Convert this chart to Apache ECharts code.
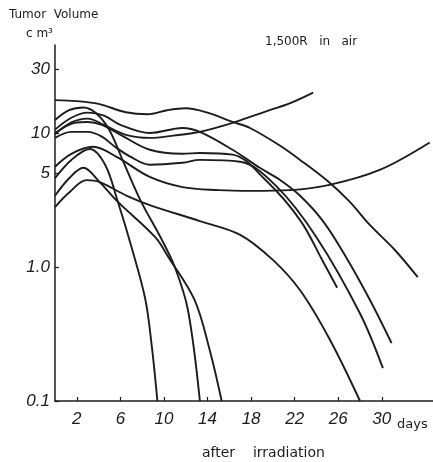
<!DOCTYPE html>
<html>
<head>
<meta charset="utf-8">
<script src="https://cdn.jsdelivr.net/npm/echarts@6/dist/echarts.min.js"></script>
<style>
  html, body { margin: 0; padding: 0; background: #fff; }
  #chart { width: 433px; height: 462px; }
</style>
</head>
<body>
<div id="chart"></div>
<script>
// Tumor volume (cm3) against days after irradiation, one curve per tumour.
const yTickValues = [0.1, 1, 5, 10, 30];
const yTickLabels = ['0.1', '1.0', '5', '10', '30'];
const xTickValues = [2, 6, 10, 14, 18, 22, 26, 30];

const daysA = [0, 2, 4, 6.5, 8.5, 10.3, 12, 14, 16.3, 17.9, 20.6, 22.5, 25, 27, 28.9, 31.2, 33.3];
const volA  = [17.6, 17.3, 16.5, 14.3, 13.8, 14.8, 15.3, 14.2, 12.1, 10.9, 8.1, 6.3, 4.4, 3.1, 2.06, 1.34, 0.84];

const daysB = [0, 1.5, 3, 4.5, 6.5, 8.7, 11, 12.7, 14.5, 16.3, 17.9, 19.7, 21.6, 23.7];
const volB  = [9.8, 12, 12.8, 11.5, 9.7, 9.2, 9.6, 10, 10.8, 11.9, 13.2, 14.8, 16.7, 20];

const daysC = [0, 1.5, 3.5, 5.7, 8.7, 11.7, 15, 18, 21.6, 25.2, 29.8, 34.4];
const volC  = [5.6, 7.0, 7.9, 6.6, 4.7, 3.95, 3.75, 3.7, 3.75, 4.1, 5.3, 8.5];

const daysD = [0, 1.8, 3, 4.3, 6.1, 8.7, 11.7, 13.3, 16.3, 19.4, 22.5, 24.6, 25.9];
const volD  = [10, 11.9, 12.1, 11.5, 9.6, 7.5, 7.0, 7.1, 6.9, 4.4, 2.24, 1.1, 0.70];

const daysE = [0, 1.5, 3, 4.3, 5.5, 7, 8.7, 11.7, 13.3, 17, 20.4, 24, 28, 30.1];
const volE  = [9.2, 10.2, 10.2, 9.4, 7.9, 6.6, 5.8, 6.0, 6.3, 6.1, 3.95, 1.67, 0.45, 0.176];

const daysF = [0, 1.5, 3, 4.5, 6, 8.7, 11.7, 13.3, 16.3, 18.8, 20.6, 22.5, 24.6, 26.6, 28.9, 30.9];
const volF  = [10.6, 13, 14.2, 13.5, 11.5, 10, 10.9, 10.2, 7.5, 5.5, 4.5, 3.4, 2.2, 1.23, 0.57, 0.27];

const daysG = [0, 1.3, 2.9, 4.1, 6.6, 8.7, 13.3, 17, 20, 22.5, 25.2, 28];
const volG  = [2.8, 3.6, 4.45, 4.3, 3.4, 2.9, 2.2, 1.74, 1.13, 0.67, 0.29, 0.1];

const daysH = [0, 1.5, 3.2, 4.6, 5.7, 7.1, 8.3, 8.9, 9.4];
const volH  = [4.6, 6.3, 7.6, 5.8, 3.2, 1.34, 0.57, 0.25, 0.1];

const daysI = [0, 1.3, 2.6, 3.8, 5, 6.2, 7.8, 9.8, 11, 12.2, 13.3];
const volI  = [12.5, 14.8, 15.5, 14, 10.5, 6.3, 3.2, 1.6, 1.0, 0.48, 0.1];

const daysJ = [0, 1.3, 2.6, 4.1, 5.7, 9.2, 10.4, 12.8, 14.2, 15.3];
const volJ  = [3.4, 4.6, 5.5, 4.3, 3.1, 1.67, 1.19, 0.57, 0.24, 0.1];

const curves = [
  [daysA, volA], [daysB, volB], [daysC, volC], [daysD, volD], [daysE, volE],
  [daysF, volF], [daysG, volG], [daysH, volH], [daysI, volI], [daysJ, volJ]
];

const ink = '#1c1c1c';
const handFont = '"Liberation Sans", "DejaVu Sans", sans-serif';
const plainFont = '"DejaVu Sans", "Liberation Sans", sans-serif';

function caption(text, left, top, size) {
  return {
    text: text, left: left, top: top, padding: 0,
    textStyle: { fontFamily: plainFont, fontSize: size, fontWeight: 'normal', color: ink }
  };
}

const chart = echarts.init(document.getElementById('chart'), null, { renderer: 'canvas' });

const option = {
  animation: false,
  backgroundColor: '#ffffff',
  title: [
    caption('Tumor  Volume', 9, 9, 12),
    caption('c m³', 26, 28, 12),
    caption('1,500R   in   air', 265, 36, 12),
    caption('days', 397, 418, 13),
    caption('after    irradiation', 202, 446, 14)
  ],
  grid: { left: 55, right: 0, top: 45, bottom: 61 },
  xAxis: {
    type: 'value',
    min: 0,
    max: 34.7,
    splitLine: { show: false },
    axisLine: { show: true, lineStyle: { color: ink, width: 1.5 } },
    axisTick: { show: true, inside: true, length: 4, customValues: xTickValues, lineStyle: { color: ink, width: 1.2 } },
    axisLabel: {
      customValues: xTickValues,
      margin: 10,
      fontFamily: handFont, fontStyle: 'italic', fontSize: 17, color: ink
    }
  },
  yAxis: {
    type: 'log',
    logBase: 10,
    min: 0.1,
    max: 45.4,
    splitLine: { show: false },
    axisLine: { show: true, lineStyle: { color: ink, width: 1.5 } },
    axisTick: { show: true, inside: true, length: 4, customValues: yTickValues, lineStyle: { color: ink, width: 1.2 } },
    axisLabel: {
      customValues: yTickValues,
      margin: 5,
      fontFamily: handFont, fontStyle: 'italic', fontSize: 17, color: ink,
      formatter: function (v) {
        const i = yTickValues.findIndex(t => Math.abs(t - v) < 1e-6 * Math.max(1, t));
        return i >= 0 ? yTickLabels[i] : '';
      }
    }
  },
  series: curves.map(function (c, k) {
    return {
      name: 'tumor' + (k + 1),
      type: 'line',
      smooth: 0.35,
      showSymbol: false,
      symbol: 'none',
      clip: true,
      lineStyle: { color: ink, width: 1.9 },
      data: c[0].map(function (d, i) { return [d, c[1][i]]; })
    };
  })
};

chart.setOption(option);
</script>
</body>
</html>
